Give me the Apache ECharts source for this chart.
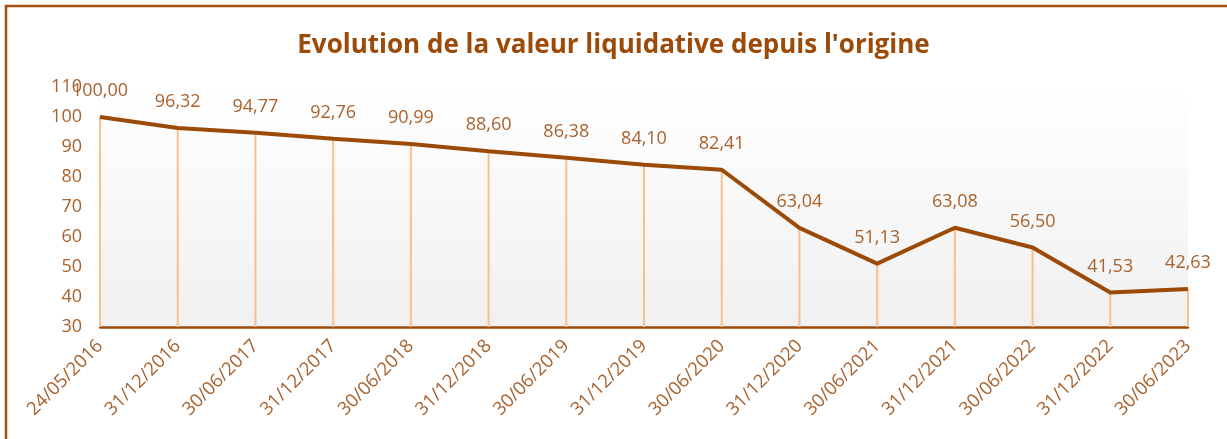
<!DOCTYPE html>
<html>
<head>
<meta charset="utf-8">
<script src="https://cdn.jsdelivr.net/npm/echarts@6/dist/echarts.min.js"></script>
<style>
  html, body { margin: 0; padding: 0; background: #fff; }
  #chart { width: 1227px; height: 439px; }
</style>
</head>
<body>
<div id="chart"></div>
<script>
// données
const dates = ['24/05/2016', '31/12/2016', '30/06/2017', '31/12/2017', '30/06/2018',
  '31/12/2018', '30/06/2019', '31/12/2019', '30/06/2020', '31/12/2020',
  '30/06/2021', '31/12/2021', '30/06/2022', '31/12/2022', '30/06/2023']
const valeurs = [100.00, 96.32, 94.77, 92.76, 90.99, 88.60, 86.38, 84.10, 82.41,
  63.04, 51.13, 63.08, 56.50, 41.53, 42.63]

const brun = '#9c4a08'
const texte = '#a8622e'

const chart = echarts.init(document.getElementById('chart'))

chart.setOption({
  backgroundColor: '#fff',
  animation: false,
  title: {
    text: "Evolution de la valeur liquidative depuis l'origine",
    left: 'center',
    top: 28,
    textStyle: { color: brun, fontSize: 26, fontWeight: 'bold', fontFamily: 'Open Sans' }
  },
  graphic: [{
    type: 'rect',
    shape: { x: 6, y: 6, width: 1240, height: 460 },
    style: { fill: 'transparent', stroke: '#a5500f', lineWidth: 2.5 },
    silent: true
  }],
  grid: {
    left: 100, right: 39, top: 87, bottom: 112,
    show: true,
    borderWidth: 0,
    backgroundColor: {
      type: 'linear', x: 0, y: 0, x2: 0, y2: 1,
      colorStops: [{ offset: 0, color: '#ffffff' }, { offset: 1, color: '#f0f0f0' }]
    }
  },
  xAxis: {
    type: 'category',
    data: dates,
    boundaryGap: false,
    axisLine: { lineStyle: { color: brun, width: 2.5 } },
    axisTick: { show: false },
    axisLabel: {
      rotate: 45, margin: 16, color: texte, fontSize: 18.5,
      fontFamily: 'Open Sans', interval: 0
    },
    splitLine: { show: false }
  },
  yAxis: {
    type: 'value',
    min: 30, max: 110, interval: 10,
    axisLine: { show: false },
    axisTick: { show: false },
    splitLine: { show: false },
    axisLabel: { color: texte, fontSize: 18, margin: 18, fontFamily: 'Open Sans' }
  },
  series: [
    {
      // lignes de projection + étiquettes de valeur
      type: 'bar',
      data: valeurs,
      barWidth: 2,
      itemStyle: { color: '#f9bf8f' },
      label: {
        show: true,
        position: 'top',
        distance: 17,
        color: texte,
        fontSize: 18,
        fontFamily: 'Open Sans',
        formatter: (p) => p.value.toFixed(2).replace('.', ',')
      },
      silent: true,
      z: 1
    },
    {
      type: 'line',
      data: valeurs,
      symbol: 'none',
      lineStyle: { color: brun, width: 4 },
      z: 3
    }
  ]
})
</script>
</body>
</html>
